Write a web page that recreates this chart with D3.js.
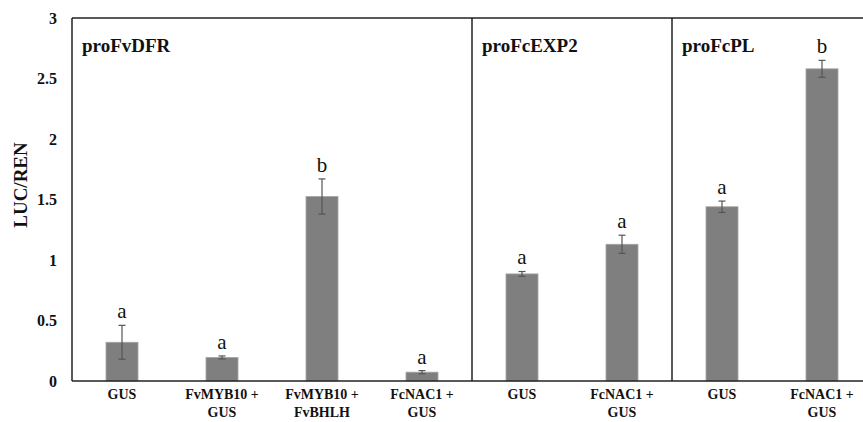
<!DOCTYPE html>
<html>
<head>
<meta charset="utf-8">
<script src="https://cdn.jsdelivr.net/npm/d3@7"></script>
<style>
  body { margin: 0; background: #fff; }
  svg { display: block; font-family: "Liberation Serif", "Times New Roman", serif; }
</style>
</head>
<body>
<div class="canvas"></div>
<script>
// data
const categories = ['c1', 'c2', 'c3', 'c4', 'c5', 'c6', 'c7', 'c8']
const labels = [['GUS'], ['FvMYB10 +', 'GUS'], ['FvMYB10 +', 'FvBHLH'], ['FcNAC1 +', 'GUS'],
    ['GUS'], ['FcNAC1 +', 'GUS'], ['GUS'], ['FcNAC1 +', 'GUS']]
const values = [0.32, 0.195, 1.525, 0.073, 0.885, 1.13, 1.44, 2.58]
const errors = [0.14, 0.012, 0.145, 0.013, 0.02, 0.075, 0.047, 0.07]
const letters = ['a', 'a', 'b', 'a', 'a', 'a', 'a', 'b']
const panels = [
    { name: 'proFvDFR', first: 'c1' },
    { name: 'proFcEXP2', first: 'c5' },
    { name: 'proFcPL', first: 'c7' }
]
const yTicks = [0, 0.5, 1, 1.5, 2, 2.5, 3]

const width = 863
const height = 422
const margin = { top: 18, left: 72, bottom: 41 }

const svg = d3.select('.canvas')
    .append('svg')
    .attr('width', width)
    .attr('height', height)

// band scale runs a bit past the window, like the cropped original
const x = d3.scaleBand()
    .domain(categories)
    .range([margin.left, margin.left + 800])
    .paddingInner(0)
    .paddingOuter(0)

const y = d3.scaleLinear()
    .domain([0, 3])
    .range([height - margin.bottom, margin.top])

const barW = 32

// bars
svg.selectAll('rect.bar')
    .data(values)
    .enter()
    .append('rect')
    .attr('class', 'bar')
    .attr('x', (d, i) => x(categories[i]) + x.bandwidth() / 2 - barW / 2)
    .attr('width', barW)
    .attr('y', d => y(d))
    .attr('height', d => y(0) - y(d))
    .attr('fill', '#7f7f7f')
    .attr('stroke', '#a6a6a6')
    .attr('stroke-width', 0.8)

// error bars
const err = svg.append('g')
    .attr('stroke', '#555')
    .attr('stroke-width', 1.2)
values.forEach((v, i) => {
    const cx = x(categories[i]) + x.bandwidth() / 2
    const hi = y(v + errors[i])
    const lo = y(v - errors[i])
    err.append('line').attr('x1', cx).attr('x2', cx).attr('y1', hi).attr('y2', lo)
    err.append('line').attr('x1', cx - 3.5).attr('x2', cx + 3.5).attr('y1', hi).attr('y2', hi)
    err.append('line').attr('x1', cx - 3.5).attr('x2', cx + 3.5).attr('y1', lo).attr('y2', lo)
})

// significance letters
svg.selectAll('text.sig')
    .data(letters)
    .enter()
    .append('text')
    .attr('class', 'sig')
    .attr('x', (d, i) => x(categories[i]) + x.bandwidth() / 2)
    .attr('y', (d, i) => y(values[i] + errors[i]) - 7)
    .attr('text-anchor', 'middle')
    .attr('font-size', 21)
    .attr('fill', '#111')
    .text(d => d)

// frame: top, left, bottom and panel dividers
const frame = svg.append('g')
    .attr('stroke', '#222')
    .attr('stroke-width', 1.5)
frame.append('line')
    .attr('x1', margin.left).attr('x2', width)
    .attr('y1', y(3)).attr('y2', y(3))
frame.append('line')
    .attr('x1', margin.left).attr('x2', width)
    .attr('y1', y(0)).attr('y2', y(0))
frame.append('line')
    .attr('x1', margin.left).attr('x2', margin.left)
    .attr('y1', y(3)).attr('y2', y(0))
panels.slice(1).forEach(p => {
    frame.append('line')
        .attr('x1', x(p.first)).attr('x2', x(p.first))
        .attr('y1', y(3)).attr('y2', y(0))
})

// panel titles
svg.selectAll('text.panel')
    .data(panels)
    .enter()
    .append('text')
    .attr('class', 'panel')
    .attr('x', d => x(d.first) + 10)
    .attr('y', 52)
    .attr('font-size', 19)
    .attr('font-weight', 'bold')
    .attr('fill', '#111')
    .text(d => d.name)

// y axis
const yAxis = d3.axisLeft(y)
    .tickValues(yTicks)
    .tickSize(0)
    .tickPadding(15)
    .tickFormat(d => d)
const yAxisGroup = svg.append('g')
    .attr('transform', `translate(${margin.left}, 0)`)
    .attr('font-family', null)
    .call(yAxis)
yAxisGroup.attr('font-family', '"Liberation Serif", serif')
yAxisGroup.select('.domain').remove()
yAxisGroup.selectAll('text')
    .attr('font-size', 16)
    .attr('font-weight', 'bold')
    .attr('fill', '#111')

svg.append('text')
    .attr('transform', 'translate(27, 185) rotate(-90)')
    .attr('text-anchor', 'middle')
    .attr('font-size', 19)
    .attr('font-weight', 'bold')
    .attr('fill', '#111')
    .text('LUC/REN')

// category labels
const xl = svg.selectAll('text.cat')
    .data(labels)
    .enter()
    .append('text')
    .attr('class', 'cat')
    .attr('x', (d, i) => x(categories[i]) + x.bandwidth() / 2)
    .attr('y', 399)
    .attr('text-anchor', 'middle')
    .attr('font-size', 14)
    .attr('font-weight', 'bold')
    .attr('fill', '#111')
xl.selectAll('tspan')
    .data(d => d)
    .enter()
    .append('tspan')
    .attr('x', function () { return d3.select(this.parentNode).attr('x') })
    .attr('dy', (d, i) => i === 0 ? 0 : 18)
    .text(d => d)
</script>
</body>
</html>
